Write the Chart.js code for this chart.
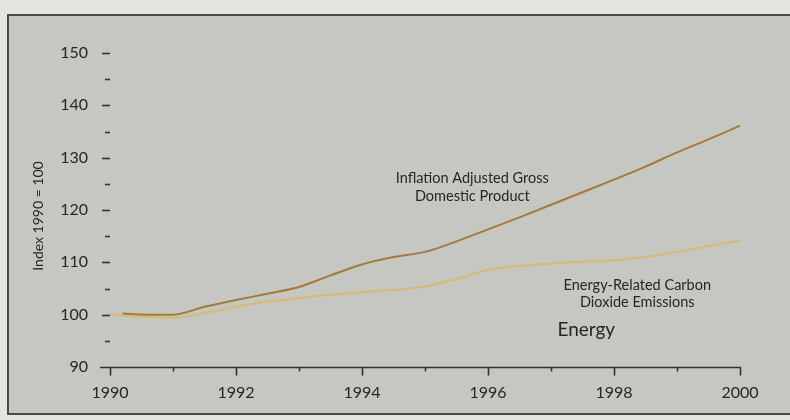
<!DOCTYPE html>
<html>
<head>
<meta charset="utf-8">
<script src="https://cdn.jsdelivr.net/npm/chart.js@4.4.1/dist/chart.umd.min.js"></script>
<style>
  html, body { margin: 0; padding: 0; }
  body { width: 790px; height: 420px; background: #e4e4e0; position: relative; overflow: hidden; }
  #frame { position: absolute; left: 7px; top: 14px; width: 800px; height: 397px; border: 2px solid #4a4a4a; background: #c6c6c2; }
  #wrap { position: absolute; left: 0; top: 0; width: 790px; height: 420px; }
</style>
</head>
<body>
<div id="frame"></div>
<div id="wrap"><canvas id="chart" width="790" height="420"></canvas></div>
<script>
// values (index, 1990 = 100)
const gdpYears = [1990.2, 1990.6, 1991, 1991.5, 1992, 1992.5, 1993, 1993.5, 1994, 1994.5, 1995, 1995.5, 1996, 1996.5, 1997, 1997.5, 1998, 1998.5, 1999, 1999.5, 2000];
const gdpValues = [100.2, 100.0, 100.0, 101.5, 102.8, 104.0, 105.3, 107.5, 109.6, 111.0, 112.0, 114.0, 116.3, 118.6, 121.0, 123.4, 125.8, 128.3, 131.0, 133.5, 136.1];

const co2Years = [1990, 1990.5, 1991, 1991.5, 1992, 1992.5, 1993, 1993.5, 1994, 1994.5, 1995, 1995.5, 1996, 1996.5, 1997, 1997.5, 1998, 1998.5, 1999, 1999.5, 2000];
const co2Values = [100.0, 99.6, 99.4, 100.3, 101.5, 102.5, 103.2, 103.8, 104.3, 104.7, 105.4, 106.8, 108.6, 109.3, 109.8, 110.1, 110.4, 111.0, 112.0, 113.1, 114.2];

const yMarks = [90, 95, 100, 105, 110, 115, 120, 125, 130, 135, 140, 145, 150];
const xMarks = [1990, 1991, 1992, 1993, 1994, 1995, 1996, 1997, 1998, 1999, 2000];

const notes = [
  { text: 'Inflation Adjusted Gross', x: 1995.75, y: 126.0, size: 14.5 },
  { text: 'Domestic Product', x: 1995.75, y: 122.55, size: 14.5 },
  { text: 'Energy-Related Carbon', x: 1998.37, y: 105.7, size: 14.5 },
  { text: 'Dioxide Emissions', x: 1998.37, y: 102.3, size: 14.5 },
  { text: 'Energy', x: 1997.56, y: 97.1, size: 19 }
];

const FONT = 'Lato, "Open Sans", sans-serif';
const INK = '#262626';

// tick dashes, bottom axis line, notes and axis title
const decorations = {
  id: 'decorations',
  afterDraw(chart) {
    const { ctx, chartArea, scales: { x, y } } = chart;
    ctx.save();
    ctx.strokeStyle = '#333';
    ctx.lineWidth = 1.6;

    yMarks.forEach(v => {
      if (v === 90) return;
      const py = Math.round(y.getPixelForValue(v)) + 0.5;
      const len = v % 10 === 0 ? 8 : 5;
      ctx.beginPath();
      ctx.moveTo(chartArea.left - len, py);
      ctx.lineTo(chartArea.left, py);
      ctx.stroke();
    });

    const base = Math.round(y.getPixelForValue(90)) + 0.5;
    ctx.beginPath();
    ctx.moveTo(chartArea.left - 10, base);
    ctx.lineTo(x.getPixelForValue(2000) + 1, base);
    ctx.stroke();

    xMarks.forEach(v => {
      const px = Math.round(x.getPixelForValue(v)) + 0.5;
      const len = v % 2 === 0 ? 8 : 4;
      ctx.beginPath();
      ctx.moveTo(px, base);
      ctx.lineTo(px, base + len);
      ctx.stroke();
    });

    ctx.fillStyle = INK;
    ctx.textAlign = 'center';
    ctx.textBaseline = 'middle';
    notes.forEach(n => {
      ctx.font = `${n.size}px ${FONT}`;
      ctx.fillText(n.text, x.getPixelForValue(n.x), y.getPixelForValue(n.y));
    });

    ctx.translate(38, 216);
    ctx.rotate(-Math.PI / 2);
    ctx.font = `14px ${FONT}`;
    ctx.fillText('Index 1990 = 100', 0, 0);
    ctx.restore();
  }
};

new Chart(document.getElementById('chart'), {
  type: 'line',
  data: {
    datasets: [
      {
        label: 'Inflation Adjusted Gross Domestic Product',
        data: gdpYears.map((yr, i) => ({ x: yr, y: gdpValues[i] })),
        borderColor: '#a47a3e',
        borderWidth: 2,
        pointRadius: 0,
        cubicInterpolationMode: 'monotone'
      },
      {
        label: 'Energy-Related Carbon Dioxide Emissions',
        data: co2Years.map((yr, i) => ({ x: yr, y: co2Values[i] })),
        borderColor: '#d8ba70',
        borderWidth: 2,
        pointRadius: 0,
        cubicInterpolationMode: 'monotone'
      }
    ]
  },
  options: {
    responsive: false,
    animation: false,
    layout: { padding: { left: 0, top: 53, right: 50, bottom: 0 } },
    plugins: { legend: { display: false }, tooltip: { enabled: false } },
    scales: {
      x: {
        type: 'linear',
        min: 1990,
        max: 2000,
        afterFit: s => { s.height = 53; },
        grid: { display: false, drawTicks: false },
        border: { display: false },
        ticks: {
          stepSize: 1,
          padding: 16,
          color: INK,
          font: { family: FONT, size: 16 },
          maxRotation: 0,
          autoSkip: false,
          callback: v => (v % 2 === 0 ? String(v) : '')
        }
      },
      y: {
        min: 90,
        max: 150,
        afterFit: s => { s.width = 110; },
        grid: { display: false, drawTicks: false },
        border: { display: false },
        ticks: {
          stepSize: 5,
          padding: 22,
          color: INK,
          font: { family: FONT, size: 16 },
          callback: v => (v % 10 === 0 ? String(v) : '')
        }
      }
    }
  },
  plugins: [decorations]
});
</script>
</body>
</html>
